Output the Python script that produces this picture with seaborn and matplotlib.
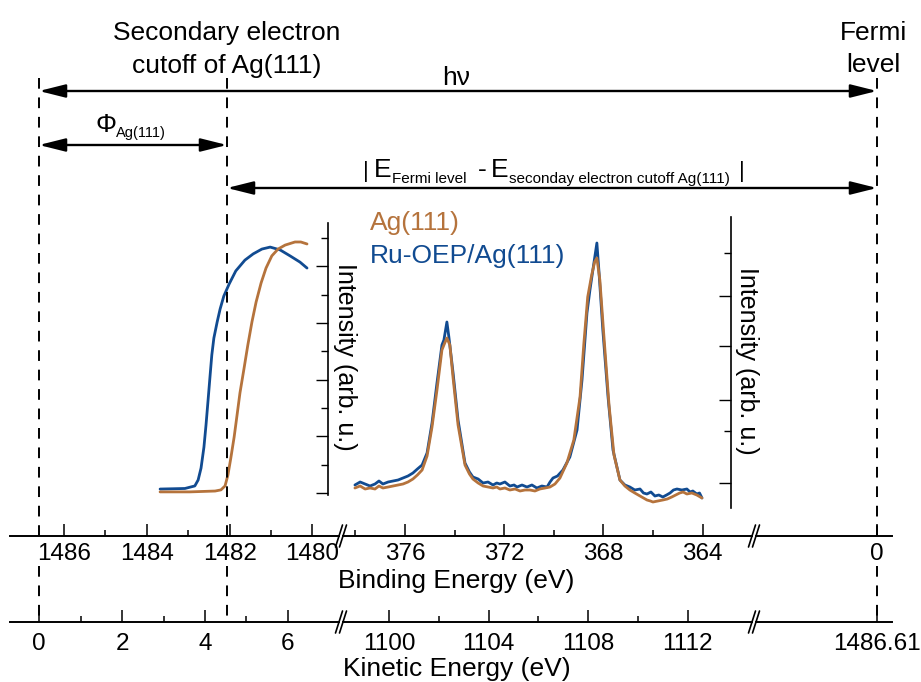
import numpy as np
import pandas as pd
import matplotlib.pyplot as plt
import seaborn as sns

W, H = 921, 682
ORANGE = "#b5733c"
BLUE = "#114b91"

# secondary electron cutoff region (binding energy, eV / intensity, arb. u.)
seco_ag_be = [1483.68, 1482.96, 1482.35, 1482.21, 1482.11, 1482.04, 1481.97, 1481.89,
              1481.82, 1481.75, 1481.65, 1481.56, 1481.46, 1481.36, 1481.24, 1481.12,
              1480.98, 1480.83, 1480.66, 1480.42, 1480.28, 1480.13]
seco_ag_int = [0.04, 0.04, 0.07, 0.11, 0.25, 0.64, 1.24, 1.98,
               2.75, 3.53, 4.41, 5.22, 6.04, 6.74, 7.41, 7.94,
               8.37, 8.61, 8.75, 8.86, 8.86, 8.79]
seco_ru_be = [1483.68, 1483.08, 1482.84, 1482.76, 1482.69, 1482.62, 1482.57, 1482.52,
              1482.47, 1482.43, 1482.38, 1482.30, 1482.23, 1482.14, 1482.01, 1481.85,
              1481.63, 1481.43, 1481.22, 1481.02, 1480.78, 1480.54, 1480.30, 1480.13]
seco_ru_int = [0.14, 0.16, 0.25, 0.46, 0.88, 1.62, 2.40, 3.28,
               4.17, 4.87, 5.47, 6.04, 6.49, 6.95, 7.38, 7.84,
               8.22, 8.44, 8.61, 8.68, 8.58, 8.37, 8.15, 7.94]

# Ag 3d region
ag3d_ru_be = [378.02, 377.81, 377.61, 377.41, 377.21, 377.05, 376.89, 376.68, 376.48, 376.28,
              376.08, 375.88, 375.68, 375.50, 375.31, 375.11, 374.91, 374.71, 374.51, 374.43,
              374.31, 374.23, 374.06, 373.86, 373.58, 373.40, 373.26, 373.05, 372.85, 372.65,
              372.45, 372.30, 372.17, 371.97, 371.77, 371.60, 371.48, 371.28, 371.08, 370.88,
              370.68, 370.48, 370.27, 370.15, 370.03, 369.85, 369.63, 369.35, 369.06, 368.86,
              368.66, 368.54, 368.38, 368.26, 368.18, 368.02, 367.81, 367.61, 367.33, 367.13,
              366.93, 366.73, 366.52, 366.38, 366.24, 366.08, 365.92, 365.76, 365.60, 365.45,
              365.31, 365.17, 365.03, 364.83, 364.63, 364.50, 364.39, 364.23, 364.12, 364.02]
ag3d_ru_int = [2.3, 2.6, 2.4, 2.2, 2.4, 2.7, 2.4, 2.6, 2.7, 2.8,
               3.0, 3.2, 3.5, 3.9, 4.3, 5.5, 8.5, 12.5, 16.3, 16.8,
               18.6, 17.1, 13.5, 8.8, 4.5, 3.6, 3.1, 2.9, 2.5, 2.6,
               2.3, 2.5, 2.4, 2.6, 2.2, 2.3, 2.1, 2.3, 2.1, 2.3,
               2.0, 2.2, 2.1, 2.6, 3.0, 3.2, 3.8, 5.1, 7.8, 12.8,
               19.5, 21.8, 24.5, 26.5, 23.8, 17.8, 11.1, 5.8, 2.8, 2.3,
               2.1, 1.8, 1.9, 1.5, 1.4, 1.6, 1.2, 1.3, 1.1, 1.3,
               1.5, 1.8, 1.9, 1.8, 1.9, 1.6, 1.7, 1.4, 1.5, 1.0]
ag3d_ag_be = [378.02, 377.81, 377.61, 377.41, 377.21, 377.05, 376.89, 376.68, 376.48, 376.28,
              376.08, 375.88, 375.68, 375.50, 375.31, 375.11, 374.91, 374.71, 374.51, 374.43,
              374.31, 374.19, 374.06, 373.86, 373.58, 373.40, 373.26, 373.05, 372.85, 372.65,
              372.45, 372.30, 372.17, 371.97, 371.77, 371.56, 371.36, 371.16, 370.96, 370.76,
              370.56, 370.35, 370.15, 369.95, 369.75, 369.47, 369.19, 368.94, 368.79, 368.63,
              368.47, 368.35, 368.26, 368.14, 367.98, 367.77, 367.57, 367.33, 367.13, 366.93,
              366.73, 366.52, 366.38, 366.24, 366.10, 366.00, 365.80, 365.60, 365.42, 365.24,
              365.08, 364.92, 364.78, 364.63, 364.43, 364.23, 364.02]
ag3d_ag_int = [2.0, 2.2, 1.9, 2.0, 1.9, 2.2, 2.0, 2.1, 2.2, 2.3,
               2.4, 2.6, 2.9, 3.3, 3.8, 5.2, 8.1, 11.8, 15.8, 16.3,
               17.0, 16.3, 13.0, 8.3, 4.3, 3.4, 2.9, 2.5, 2.2, 2.1,
               2.0, 2.1, 1.9, 2.0, 1.8, 1.9, 1.7, 1.8, 1.8, 1.7,
               1.9, 2.0, 2.1, 2.4, 3.0, 4.5, 6.8, 11.1, 16.3, 21.1,
               23.3, 24.6, 25.0, 22.8, 17.3, 10.3, 5.3, 2.8, 2.2, 1.8,
               1.5, 1.2, 1.0, 0.8, 0.7, 0.6, 0.7, 0.8, 0.9, 1.1,
               1.3, 1.5, 1.6, 1.4, 1.5, 1.3, 1.0]

# energy scales
be_major_1 = [1486, 1484, 1482, 1480]
be_minor_1 = [1485, 1483, 1481]
be_major_2 = [376, 372, 368, 364]
be_minor_2 = [378, 374, 370, 366]
be_major_3 = [0]
ke_major_1 = [0, 2, 4, 6]
ke_minor_1 = [1, 3, 5]
ke_major_2 = [1100, 1104, 1108, 1112]
ke_minor_2 = [1102, 1106, 1110]
ke_major_3 = [1486.61]

sns.set_theme(style="white", rc={"text.color": "black", "xtick.color": "black",
                                 "ytick.color": "black", "axes.edgecolor": "black"})
plt.rcParams["font.family"] = ["Liberation Sans", "DejaVu Sans"]

fig = plt.figure(figsize=(W / 100, H / 100), dpi=100)


def px_axes(x0, y0, x1, y1):
    ax = fig.add_axes([x0 / W, 1 - y1 / H, (x1 - x0) / W, (y1 - y0) / H])
    ax.patch.set_visible(False)
    return ax


def spectrum_frame(be_a, int_a, be_r, int_r):
    return pd.concat([
        pd.DataFrame({"BE": be_r, "I": int_r, "sample": "Ru-OEP/Ag(111)"}),
        pd.DataFrame({"BE": be_a, "I": int_a, "sample": "Ag(111)"}),
    ])


palette = {"Ag(111)": ORANGE, "Ru-OEP/Ag(111)": BLUE}
hue_order = ["Ru-OEP/Ag(111)", "Ag(111)"]

# left spectrum: secondary electron cutoff
ax_seco = px_axes(150, 223, 328, 495)
sns.lineplot(data=spectrum_frame(seco_ag_be, seco_ag_int, seco_ru_be, seco_ru_int),
             x="BE", y="I", hue="sample", hue_order=hue_order, palette=palette,
             sort=False, estimator=None, linewidth=2, legend=False, ax=ax_seco)
ax_seco.set_xlim(1483.923, 1479.623)
ax_seco.set_ylim(-0.07, 9.53)
ax_seco.set_yticks([0, 2, 4, 6, 8])
ax_seco.set_yticks([1, 3, 5, 7, 9], minor=True)

# middle spectrum: Ag 3d
ax_ag = px_axes(345, 217, 731, 508)
sns.lineplot(data=spectrum_frame(ag3d_ag_be, ag3d_ag_int, ag3d_ru_be, ag3d_ru_int),
             x="BE", y="I", hue="sample", hue_order=hue_order, palette=palette,
             sort=False, estimator=None, linewidth=2, legend=False, ax=ax_ag)
ax_ag.set_xlim(378.42, 362.85)
ax_ag.set_ylim(0, 29.1)
ax_ag.set_yticks([2.5, 10.8, 16.2, 21.2])
ax_ag.set_yticks([7.7, 25.5], minor=True)

for ax in (ax_seco, ax_ag):
    for side in ("left", "top", "bottom"):
        ax.spines[side].set_visible(False)
    ax.spines["right"].set_linewidth(1.2)
    ax.set_xticks([])
    ax.set_xlabel("")
    ax.set_ylabel("")
    ax.yaxis.tick_right()
    ax.tick_params(axis="y", which="both", direction="in", width=1, labelright=False)
    ax.tick_params(axis="y", which="major", length=9)
    ax.tick_params(axis="y", which="minor", length=5)


def energy_axis(x0, x1, y, lim, major, minor, pad):
    ax = px_axes(x0, y - 20, x1, y)
    ax.set_xlim(lim)
    ax.set_ylim(0, 1)
    for side in ("left", "top", "right"):
        ax.spines[side].set_visible(False)
    ax.spines["bottom"].set_linewidth(1.4)
    ax.set_yticks([])
    ax.set_xticks(major, labels=[f"{v:g}" for v in major])
    ax.set_xticks(minor, minor=True)
    ax.tick_params(axis="x", which="both", bottom=True, direction="in", width=1.1,
                   pad=pad, labelsize=17.5)
    ax.tick_params(axis="x", which="major", length=9)
    ax.tick_params(axis="x", which="minor", length=4.5)
    return ax


BE_Y, KE_Y = 536, 622
energy_axis(10, 339, BE_Y, (1487.304, 1479.357), be_major_1, be_minor_1, 5)
energy_axis(343, 752, BE_Y, (378.5, 362.008), be_major_2, be_minor_2, 5)
energy_axis(756, 892, BE_Y, (2.923, -0.362), be_major_3, [], 5)
energy_axis(10, 339, KE_Y, (-0.699, 7.229), ke_major_1, ke_minor_1, 8)
energy_axis(343, 752, KE_Y, (1098.153, 1114.578), ke_major_2, ke_minor_2, 8)
energy_axis(756, 892, KE_Y, (1483.69, 1486.97), ke_major_3, [], 8)

# overlay in pixel coordinates for the schematic annotations
ax0 = fig.add_axes([0, 0, 1, 1])
ax0.set_xlim(0, W)
ax0.set_ylim(H, 0)
ax0.axis("off")
ax0.patch.set_visible(False)
ax0.set_zorder(5)

for xd in (39, 227, 877):
    ax0.plot([xd, xd], [78, 536], color="black", lw=1.4, ls=(0, (5.5, 4.5)))
    ax0.plot([xd, xd], [566, 622], color="black", lw=1.4, ls=(0, (5.5, 4.5)))

for y in (BE_Y, KE_Y):
    for xb in (339, 343, 752, 756):
        ax0.plot([xb - 3.5, xb + 3.5], [y + 11, y - 11], color="black", lw=1.2)

arrow = dict(arrowstyle="<|-|>,head_length=1.6,head_width=0.4", mutation_scale=10,
             lw=1.7, color="black", shrinkA=0, shrinkB=0)
ax0.annotate("", xy=(877, 91), xytext=(39, 91), arrowprops=arrow)
ax0.annotate("", xy=(227, 145), xytext=(39, 145), arrowprops=arrow)
ax0.annotate("", xy=(877, 188), xytext=(227, 188), arrowprops=arrow)

big = 19
ax0.text(227, 40, "Secondary electron", fontsize=big, ha="center", va="baseline")
ax0.text(227, 73, "cutoff of Ag(111)", fontsize=big, ha="center", va="baseline")
ax0.text(873, 40, "Fermi", fontsize=big, ha="center", va="baseline")
ax0.text(873, 72, "level", fontsize=big, ha="center", va="baseline")
ax0.text(456, 85, "h\u03bd", fontsize=big, ha="center", va="baseline")
ax0.text(95, 132, "\u03a6", fontsize=big, ha="left", va="baseline")
ax0.text(116, 137, "Ag(111)", fontsize=10.5, ha="left", va="baseline")

ax0.text(363, 177, "|", fontsize=16, ha="left", va="baseline")
ax0.text(374, 177, "E", fontsize=big, ha="left", va="baseline")
ax0.text(392, 183, "Fermi level", fontsize=11, ha="left", va="baseline")
ax0.text(478, 177, "-", fontsize=big, ha="left", va="baseline")
ax0.text(491, 177, "E", fontsize=big, ha="left", va="baseline")
ax0.text(509, 183, "seconday electron cutoff Ag(111)", fontsize=11, ha="left", va="baseline")
ax0.text(739, 177, "|", fontsize=16, ha="left", va="baseline")

ax0.text(370, 230, "Ag(111)", fontsize=big, color=ORANGE, ha="left", va="baseline")
ax0.text(370, 263, "Ru-OEP/Ag(111)", fontsize=big, color=BLUE, ha="left", va="baseline")

ax0.text(345, 357, "Intensity (arb. u.)", fontsize=18, rotation=270, ha="center", va="center")
ax0.text(747, 361, "Intensity (arb. u.)", fontsize=18, rotation=270, ha="center", va="center")

ax0.text(456, 588, "Binding Energy (eV)", fontsize=big, ha="center", va="baseline")
ax0.text(457, 676, "Kinetic Energy (eV)", fontsize=big, ha="center", va="baseline")

fig.savefig("out.png", dpi=100)
